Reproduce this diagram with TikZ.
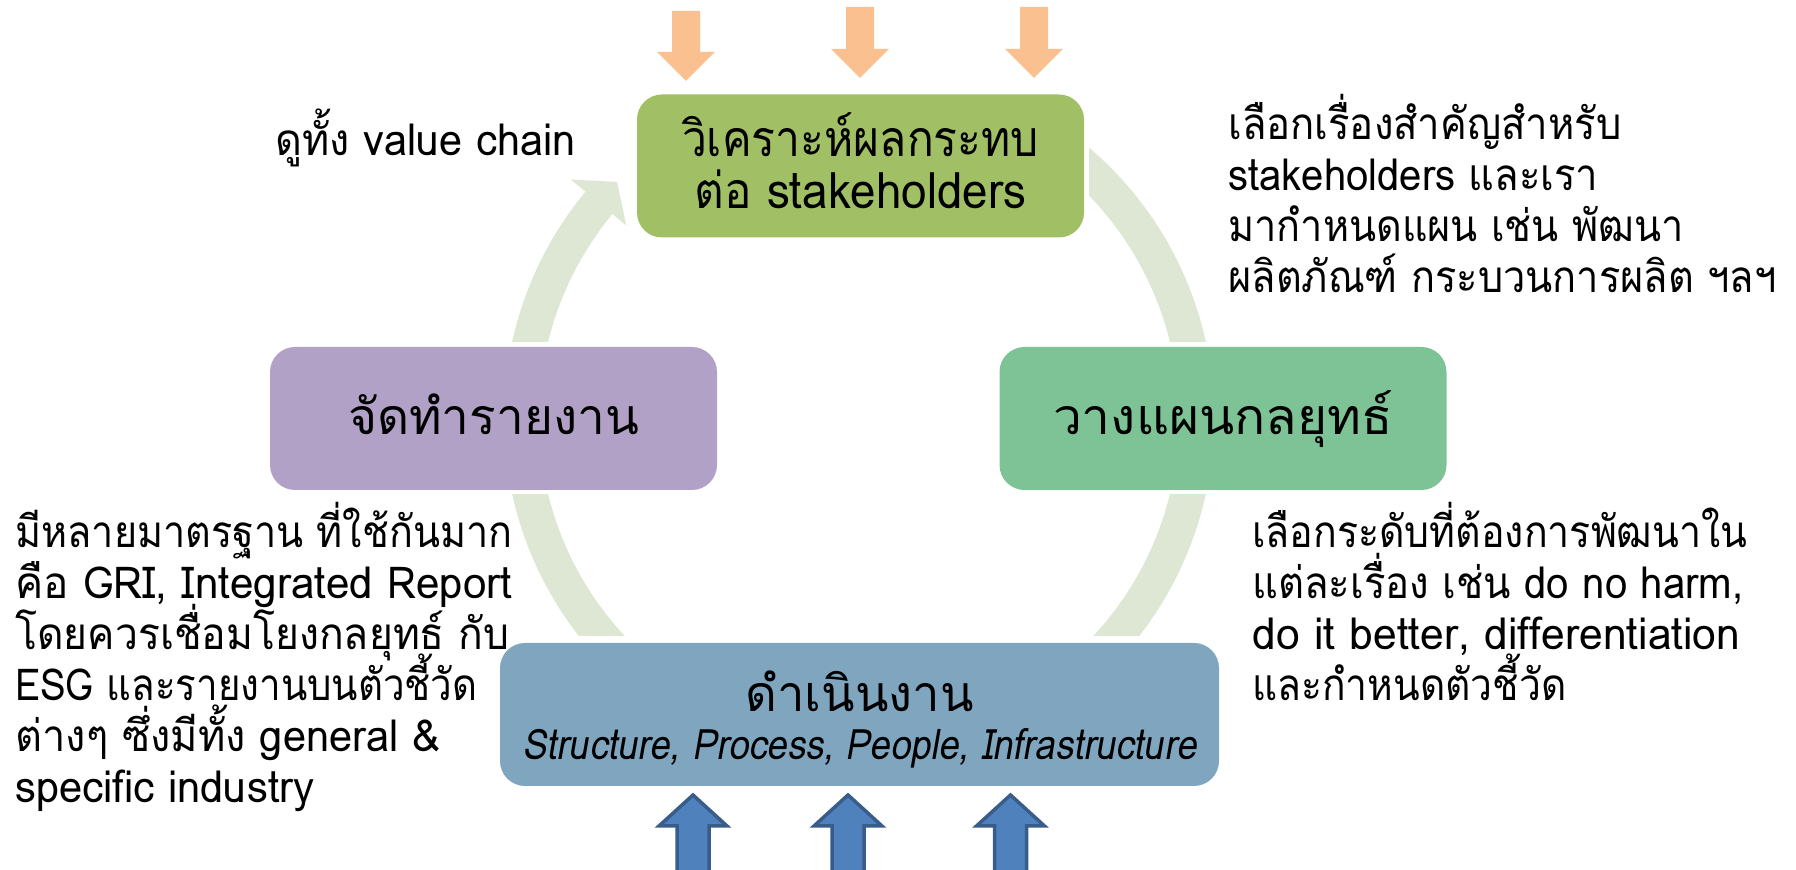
\documentclass[tikz,border=0pt]{standalone}
\usepackage{fontspec}
\usepackage{graphicx}
\newfontfamily\thaifont[Script=Thai]{Loma}
\newfontfamily\thaiitfont[Script=Thai,FakeSlant=0.2]{Loma}
\definecolor{ringc}{HTML}{DEE7D3}
\definecolor{greenc}{HTML}{A1C065}
\definecolor{purplec}{HTML}{B2A1C7}
\definecolor{tealc}{HTML}{7EC395}
\definecolor{bluec}{HTML}{7FA5BF}
\definecolor{orangec}{HTML}{FAC090}
\definecolor{bluefill}{HTML}{4F81BD}
\definecolor{blueline}{HTML}{385D8A}
\newlength\natw
\newcommand\fitto[2]{\settowidth{\natw}{#2}\pgfmathsetmacro\fitsx{#1/\natw}\scalebox{\fitsx}[1]{#2}}
\newcommand\nline[2]{\hbox{\fitto{#1}{#2}}}
\newcommand\cenline[2]{\hbox to 0pt{\hss\fitto{#1}{#2}\hss}}
\newcommand\placed[3]{\raisebox{0pt}[#1][#2]{\smash{\vtop{#3}}}}
\begin{document}
\begin{tikzpicture}[x=0.5pt,y=-0.5pt,
  box/.style={rounded corners=12.5pt, inner sep=0pt, minimum width=223.5pt, minimum height=71.5pt,
    font={\thaifont\fontsize{25}{25.75}\selectfont\lineskiplimit=-\maxdimen}},
  note/.style={anchor=base west, inner sep=0pt,
    font={\thaifont\fontsize{22}{25.5}\selectfont\lineskiplimit=-\maxdimen}},
  ringfill/.style={fill=ringc, even odd rule},
  inarrow/.style={fill=orangec},
  uparrow/.style={fill=bluefill, draw=blueline, line width=1.75pt, line join=miter}
]
\useasboundingbox (0,0) rectangle (1796,870);

% ring segments
\begin{scope}
\clip (1089,0) rectangle (1300,342);
\fill[ringfill] (859,418) circle[radius=177.5pt] (859,418) circle[radius=160pt];
\end{scope}
\begin{scope}
\clip (870,495) rectangle (1300,636);
\fill[ringfill] (859,418) circle[radius=177.5pt] (859,418) circle[radius=160pt];
\end{scope}
\begin{scope}
\clip (400,495) rectangle (850,636);
\fill[ringfill] (859,418) circle[radius=177.5pt] (859,418) circle[radius=160pt];
\end{scope}
\begin{scope}
\clip (859,418) -- (474,99) -- (300,99) -- (300,342) -- (600,342) -- cycle;
\fill[ringfill] (859,418) circle[radius=177.5pt] (859,418) circle[radius=160pt];
\end{scope}
\fill[ringc] (570.8,179.6) -- (617.1,181.9) -- (626.3,225.5) -- cycle;

% boxes
\node[box, fill=greenc] (analyze) at (860.5,166)
  {\placed{0pt}{9pt}{\cenline{178.5pt}{วิเคราะห์ผลกระทบ}\cenline{166pt}{ต่อ stakeholders}}};
\node[box, fill=purplec] (report) at (493.5,418.5)
  {\placed{16.5pt}{0pt}{\cenline{145.5pt}{จัดทำรายงาน}}};
\node[box, fill=tealc] (plan) at (1223,418.5)
  {\placed{16.5pt}{0pt}{\cenline{170pt}{วางแผนกลยุทธ์}}};
\node[box, fill=bluec, minimum width=359.5pt] (operate) at (859.5,714.5)
  {\placed{0pt}{2.5pt}{\baselineskip=24pt\cenline{114pt}{ดำเนินงาน}\cenline{337pt}{\thaiitfont\fontsize{21}{24}\selectfont Structure, Process, People, Infrastructure}}};

% input arrows (top)
\fill[inarrow] (672,11) -- (700,11) -- (700,52) -- (715,52) -- (686,81) -- (657,52) -- (672,52) -- cycle;
\fill[inarrow] (846,7) -- (874,7) -- (874,49) -- (889,49) -- (860,78) -- (831,49) -- (846,49) -- cycle;
\fill[inarrow] (1020,7) -- (1048,7) -- (1048,49) -- (1063,49) -- (1034,78) -- (1005,49) -- (1020,49) -- cycle;

% support arrows (bottom)
\draw[uparrow] (677,885) -- (677,826) -- (659,826) -- (693,795) -- (727,826) -- (709,826) -- (709,885);
\draw[uparrow] (832,885) -- (832,826) -- (814,826) -- (848,795) -- (882,826) -- (864,826) -- (864,885);
\draw[uparrow] (994.5,885) -- (994.5,826) -- (976.5,826) -- (1010.5,795) -- (1044.5,826) -- (1026.5,826) -- (1026.5,885);

% notes
\node[note] (n1) at (275,156) {\vtop{\nline{150pt}{ดูทั้ง value chain}}};
\node[note] (n2) at (1228,140) {\vtop{%
  \nline{196.5pt}{เลือกเรื่องสำคัญสำหรับ}%
  \nline{185pt}{stakeholders และเรา}%
  \nline{227.5pt}{มากำหนดแผน เช่น พัฒนา}%
  \nline{274pt}{ผลิตภัณฑ์ กระบวนการผลิต ฯลฯ}}};
\node[note] (n3) at (15,547.5) {\vtop{%
  \nline{248.5pt}{มีหลายมาตรฐาน ที่ใช้กันมาก}%
  \nline{248.5pt}{คือ GRI, Integrated Report}%
  \nline{247pt}{โดยควรเชื่อมโยงกลยุทธ์ กับ}%
  \nline{231pt}{ESG และรายงานบนตัวชี้วัด}%
  \nline{212.5pt}{ต่างๆ ซึ่งมีทั้ง general \&}%
  \nline{149.5pt}{specific industry}}};
\node[note] (n4) at (1252,547.5) {\vtop{%
  \nline{247.5pt}{เลือกระดับที่ต้องการพัฒนาใน}%
  \nline{245.5pt}{แต่ละเรื่อง เช่น do no harm,}%
  \nline{244pt}{do it better, differentiation}%
  \nline{157pt}{และกำหนดตัวชี้วัด}}};
\end{tikzpicture}
\end{document}
